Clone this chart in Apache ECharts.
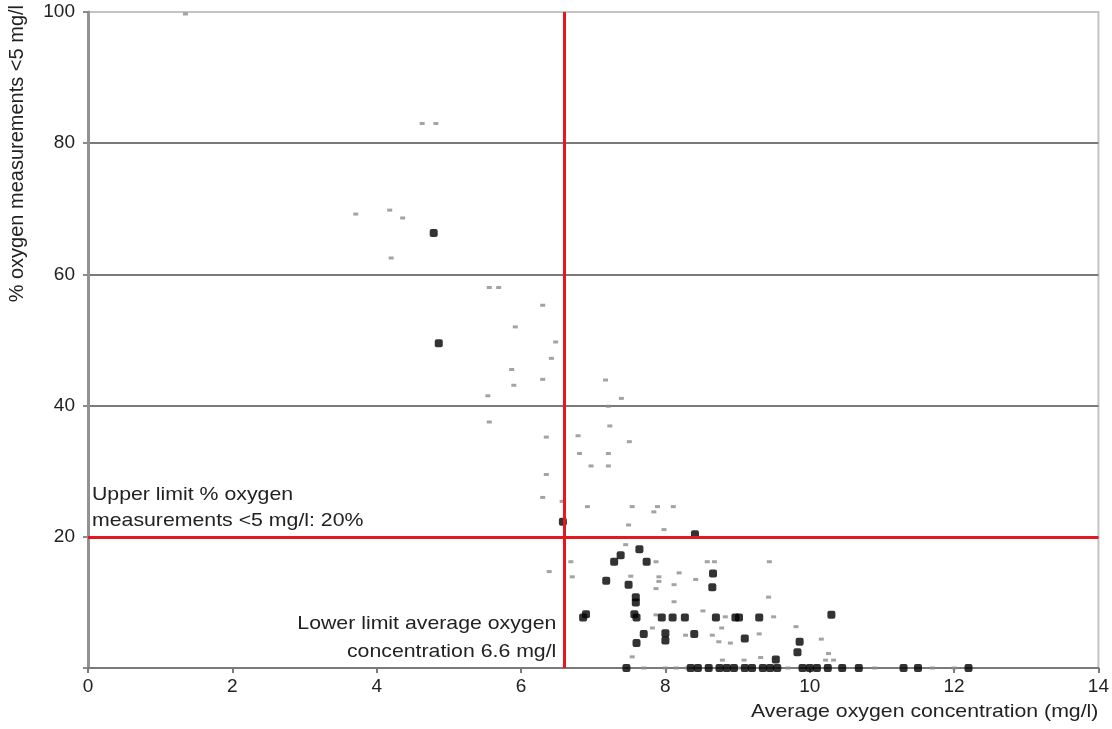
<!DOCTYPE html>
<html>
<head>
<meta charset="utf-8">
<script src="https://cdn.jsdelivr.net/npm/echarts@6/dist/echarts.min.js"></script>
<style>
html,body{margin:0;padding:0;background:#fff;}
#chart{width:1112px;height:729px;}
</style>
</head>
<body>
<div id="chart"></div>
<script>
// X tick values and Y tick values
var xTicks = [0, 2, 4, 6, 8, 10, 12, 14];
var yTicks = [0, 20, 40, 60, 80, 100];

// Thresholds
var lowerLimitOxygen = 6.6;
var upperLimitPercent = 20;

// Small grey markers: [average oxygen (mg/l), % measurements < 5 mg/l]
var lightPoints = [
  [1.35,99.7],[4.63,83],[4.82,83],[3.71,69.2],[4.18,69.8],[4.36,68.6],[4.2,62.5],
  [5.56,58],[5.69,58],[6.3,55.3],[5.92,52],[6.48,49.7],[6.42,47.2],[5.87,45.5],
  [5.9,43.1],[6.3,44],[5.54,41.5],[5.56,37.5],[6.35,35.2],[6.79,35.4],[7.17,43.9],
  [7.39,41.1],[7.21,39.9],[7.23,36.9],[7.5,34.5],[6.81,32.7],[7.21,32.7],[6.97,30.8],
  [7.21,30.8],[6.35,29.5],[6.3,26],[6.92,24.6],[7.54,24.6],[7.89,24.6],[7.84,23.8],
  [8.11,24.6],[7.49,21.8],[7.98,21.1],[7.45,18.8],[6.69,16.2],[7.87,16.2],[8.58,16.2],
  [8.68,16.2],[6.71,13.9],[6.39,14.7],[7.52,14],[7.91,13.9],[8.19,14.5],[8.42,13.5],
  [7.87,12.1],[8.12,12.7],[7.91,13.2],[8.12,10.1],[8.52,8.7],[7.87,8.1],[7.82,6.1],
  [8.28,5],[8.65,5],[8.78,6.1],[8.9,3.8],[8.74,4],[7.54,1.7],[8.79,1.2],[9.44,16.2],
  [9.43,10.8],[9.5,7.8],[8.83,7.8],[9.81,6.3],[9.3,5.2],[10.16,4.4],[10.26,2.2],
  [10.22,1.2],[10.33,1.2],[9.09,1.2],[9.32,1.6],[6.57,25.4],
  [7.7,0],[8.0,0],[8.15,0],[8.3,0],[9.0,0],[9.7,0],[10.9,0],[11.7,0],[12.0,0]
];

// Large black markers
var darkPoints = [
  [4.79,66.3],[4.86,49.5],[6.58,22.3],[8.41,20.4],[7.64,18.1],[7.38,17.2],[7.29,16.2],
  [7.74,16.2],[7.18,13.3],[7.49,12.7],[8.66,14.4],[8.65,12.3],[7.59,10.8],[7.59,10.0],
  [6.9,8.2],[6.86,7.7],[7.57,8.2],[7.6,7.7],[7.95,7.7],[8.1,7.7],[8.27,7.7],[8.7,7.7],
  [8.97,7.7],[7.7,5.2],[7.6,3.8],[8.0,5.3],[8.0,4.2],[8.4,5.2],[9.02,7.7],[9.3,7.7],
  [10.3,8.1],[9.1,4.5],[9.86,4.0],[9.83,2.4],[9.53,1.3],
  [7.46,0],[8.35,0],[8.45,0],[8.6,0],[8.75,0],[8.85,0],[8.95,0],[9.1,0],[9.2,0],
  [9.35,0],[9.45,0],[9.55,0],[9.9,0],[10.0,0],[10.1,0],[10.25,0],[10.45,0],[10.68,0],
  [11.3,0],[11.5,0],[12.2,0]
];

// Texts
var xAxisTitle = 'Average oxygen concentration (mg/l)';
var yAxisTitle = '% oxygen measurements <5 mg/l';
var upperLimitText = 'Upper limit % oxygen\nmeasurements <5 mg/l: 20%';
var lowerLimitText = 'Lower limit average oxygen\nconcentration 6.6 mg/l';

var FONT = '"Liberation Sans", Arial, sans-serif';
var RED = '#e3191f';
var STRETCH = 1.12;

var chart = echarts.init(document.getElementById('chart'), null, {renderer: 'canvas'});

var option = {
  animation: false,
  backgroundColor: '#ffffff',
  grid: {left: 88, right: 12, top: 12, bottom: 61, show: true, borderColor: '#c4c4c4', borderWidth: 2},
  xAxis: {
    type: 'value',
    min: xTicks[0], max: xTicks[xTicks.length - 1], interval: 2,
    axisLine: {show: true, onZero: false, lineStyle: {color: '#7a7a7a', width: 2}},
    axisTick: {show: true, length: 5, lineStyle: {color: '#7a7a7a', width: 2}},
    axisLabel: {color: '#222', fontSize: 19, fontFamily: FONT, margin: 9},
    splitLine: {show: false}
  },
  yAxis: {
    type: 'value',
    min: yTicks[0], max: yTicks[yTicks.length - 1], interval: 20,
    axisLine: {show: true, onZero: false, lineStyle: {color: '#929292', width: 3}},
    axisTick: {show: true, length: 5, lineStyle: {color: '#8a8a8a', width: 2}},
    axisLabel: {color: '#222', fontSize: 19, fontFamily: FONT, margin: 13,
      formatter: function (v) { return v === 0 ? '' : String(v); }},
    splitLine: {show: true, lineStyle: {color: ['#7a7a7a','#7a7a7a','#7a7a7a','#7a7a7a','#7a7a7a','#c4c4c4'], width: 2}}
  },
  series: [
    {
      type: 'scatter',
      data: lightPoints,
      symbol: 'rect',
      symbolSize: [5, 3],
      clip: false,
      itemStyle: {color: '#8c8c8c'},
      z: 3
    },
    {
      type: 'scatter',
      data: darkPoints,
      symbol: 'roundRect',
      symbolSize: 8,
      clip: false,
      itemStyle: {color: '#000'},
      z: 4
    },
    {
      type: 'scatter',
      data: [],
      markLine: {
        silent: true,
        symbol: ['none', 'none'],
        label: {show: false},
        lineStyle: {color: RED, width: 3, type: 'solid'},
        data: [{xAxis: lowerLimitOxygen}, {yAxis: upperLimitPercent}]
      },
      z: 5
    }
  ]
};
chart.setOption(option);

function placeGraphics() {
  var pUpper = chart.convertToPixel({gridIndex: 0}, [0, upperLimitPercent]);
  var pLower = chart.convertToPixel({gridIndex: 0}, [lowerLimitOxygen, 0]);
  var pEnd = chart.convertToPixel({gridIndex: 0}, [xTicks[xTicks.length - 1], 0]);
  var pTop = chart.convertToPixel({gridIndex: 0}, [0, yTicks[yTicks.length - 1]]);
  chart.setOption({
    graphic: [
      {type: 'text', x: pUpper[0] + 4, y: pUpper[1] - 3, scaleX: STRETCH,
        style: {text: upperLimitText, font: '19px ' + FONT, fill: '#222', align: 'left', verticalAlign: 'bottom', lineHeight: 26}},
      {type: 'text', x: pLower[0] - 8, y: pLower[1] - 2, scaleX: STRETCH,
        style: {text: lowerLimitText, font: '19px ' + FONT, fill: '#222', align: 'right', verticalAlign: 'bottom', lineHeight: 28}},
      {type: 'text', x: pEnd[0], y: pEnd[1] + 44, scaleX: STRETCH,
        style: {text: xAxisTitle, font: '19px ' + FONT, fill: '#222', align: 'right', verticalAlign: 'middle'}},
      {type: 'text', x: 17, y: pTop[1] - 7, rotation: Math.PI / 2,
        style: {text: yAxisTitle, font: '20px ' + FONT, fill: '#222', align: 'right', verticalAlign: 'middle'}}
    ]
  });
}
placeGraphics();
</script>
</body>
</html>
